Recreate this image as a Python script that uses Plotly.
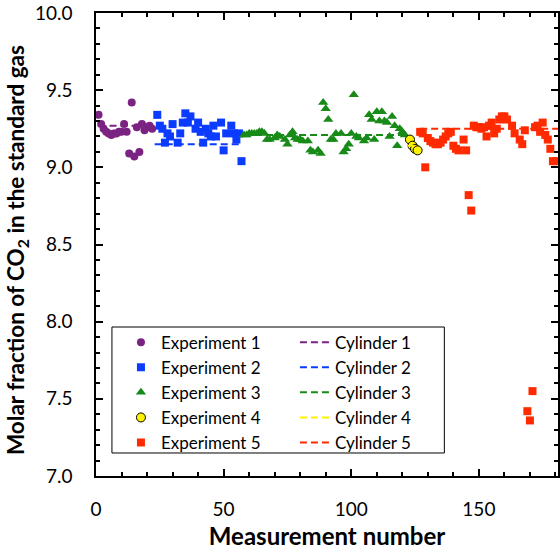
import plotly.graph_objects as go

# Measured CO2 molar fraction of the standard gas, per experiment
exp1_n = [1, 2, 3, 4, 5, 6, 7, 8, 9, 10, 11, 12, 13, 14, 15, 16, 17, 18, 19, 20, 21, 22]
exp1_v = [9.34, 9.28, 9.25, 9.23, 9.22, 9.21, 9.22, 9.22, 9.23, 9.23, 9.28, 9.23,
          9.09, 9.42, 9.07, 9.26, 9.10, 9.28, 9.24, 9.26, 9.27, 9.25]

exp2_n = [24, 25, 26, 27, 28, 29, 30, 32, 33, 34, 35, 36, 37, 39, 40, 41, 42, 43,
          44, 45, 46, 47, 49, 50, 51, 53, 54, 55, 56, 57]
exp2_v = [9.34, 9.27, 9.25, 9.16, 9.22, 9.20, 9.28, 9.16, 9.22, 9.29, 9.35, 9.29,
          9.33, 9.25, 9.29, 9.23, 9.16, 9.25, 9.22, 9.20, 9.27, 9.20, 9.29, 9.11,
          9.22, 9.27, 9.22, 9.18, 9.22, 9.04]

exp3_n = [58, 59, 60, 61, 62, 63, 64, 65, 66, 67, 68, 70, 71, 72, 74, 75, 76, 77,
          78, 79, 80, 81, 83, 84, 85, 87, 88, 89, 90, 91, 92, 93, 94, 96, 97, 98,
          99, 100, 101, 102, 103, 105, 106, 107, 108, 109, 110, 111, 112, 113, 114,
          115, 116, 117, 118, 119, 120, 121]
exp3_v = [9.21, 9.21, 9.22, 9.22, 9.22, 9.22, 9.23, 9.23, 9.22, 9.18, 9.18, 9.19,
          9.21, 9.20, 9.18, 9.15, 9.21, 9.23, 9.19, 9.18, 9.18, 9.17, 9.17, 9.11,
          9.10, 9.11, 9.09, 9.42, 9.38, 9.31, 9.18, 9.18, 9.22, 9.22, 9.10, 9.12,
          9.15, 9.22, 9.47, 9.20, 9.19, 9.17, 9.19, 9.34, 9.31, 9.18, 9.36, 9.30,
          9.36, 9.30, 9.29, 9.20, 9.33, 9.27, 9.14, 9.25, 9.23, 9.21]

exp4_n = [123, 124, 125, 126]
exp4_v = [9.18, 9.14, 9.12, 9.11]

exp5_n = [127, 128, 129, 130, 131, 132, 133, 134, 135, 136, 137, 138, 139, 140,
          141, 142, 144, 145, 146, 147, 148, 149, 150, 151, 152, 153, 154, 155,
          156, 157, 158, 159, 160, 161, 163, 164, 166, 167, 168, 169, 170, 171,
          172, 173, 174, 175, 176, 177, 178, 179, 180]
exp5_v = [9.23, 9.22, 9.00, 9.19, 9.17, 9.16, 9.15, 9.15, 9.16, 9.18, 9.20, 9.22,
          9.23, 9.14, 9.12, 9.11, 9.18, 9.11, 8.82, 8.72, 9.27, 9.26, 9.26, 9.25,
          9.26, 9.20, 9.27, 9.29, 9.22, 9.25, 9.31, 9.33, 9.33, 9.31, 9.27, 9.22,
          9.18, 9.15, 9.24, 7.42, 7.36, 7.55, 9.26, 9.27, 9.23, 9.29, 9.21, 9.18,
          9.12, 9.04, 9.04]

# Reference value of each cylinder and the measurement span it covers
cyl_names = ["Cylinder 1", "Cylinder 2", "Cylinder 3", "Cylinder 4", "Cylinder 5"]
cyl_start = [1, 23, 58, 122, 127]
cyl_end = [22, 57, 121, 126, 181]
cyl_value = [9.27, 9.15, 9.21, 9.14, 9.25]

x_ticks = [0, 50, 100, 150]
y_ticks = [7.0, 7.5, 8.0, 8.5, 9.0, 9.5, 10.0]

purple = "#7B2382"
blue = "#0B3BFF"
green = "#178A17"
yellow = "#FFF200"
red = "#FF2A00"
cyl_colors = [purple, blue, green, yellow, red]

FONT = "Lato, 'Open Sans', sans-serif"

fig = go.Figure()

experiments = [
    ("Experiment 1", exp1_n, exp1_v, dict(symbol="circle", size=8, color=purple)),
    ("Experiment 2", exp2_n, exp2_v, dict(symbol="square", size=8, color=blue)),
    ("Experiment 3", exp3_n, exp3_v, dict(symbol="triangle-up", size=9, color=green)),
    ("Experiment 4", exp4_n, exp4_v, dict(symbol="circle", size=9, color=yellow,
                                          line=dict(color="black", width=1))),
    ("Experiment 5", exp5_n, exp5_v, dict(symbol="square", size=8, color=red)),
]
for i, (name, xs, ys, mk) in enumerate(experiments):
    fig.add_trace(go.Scatter(x=xs, y=ys, mode="markers", name=name, marker=mk,
                             legendrank=2 * i + 1))

for i in range(5):
    fig.add_trace(go.Scatter(
        x=[cyl_start[i], cyl_end[i]], y=[cyl_value[i], cyl_value[i]],
        mode="lines", name=cyl_names[i], legendrank=2 * i + 2,
        line=dict(color=cyl_colors[i], width=2, dash="7px,4px")))

axis_common = dict(
    showgrid=False, zeroline=False, showline=True, linecolor="black", linewidth=1.5,
    mirror="ticks", ticks="inside", ticklen=7, tickwidth=1.5, tickcolor="black",
    tickfont=dict(family=FONT, size=19, color="black"),
)

# Frame behind the legend entries
fig.add_shape(type="rect", xref="x domain", yref="y domain",
              x0=0.0345, x1=0.754, y0=0.0497, y1=0.3218,
              line=dict(color="black", width=1), fillcolor="white", layer="above")

# Vertical axis title
fig.add_annotation(text="Molar fraction of CO<sub>2</sub> in the standard gas",
                   xref="paper", yref="paper", x=-0.171, y=0.488,
                   xanchor="center", yanchor="middle", textangle=-90, showarrow=False,
                   font=dict(family=FONT, size=22.5, color="black", weight="bold"))

fig.update_layout(
    width=560, height=551,
    margin=dict(l=96, r=0, t=13, b=75),
    plot_bgcolor="white", paper_bgcolor="white",
    xaxis=dict(range=[0, 181], tickvals=x_ticks, ticklabelstandoff=15,
               minor=dict(dtick=10, tick0=0, ticks="inside", ticklen=4, tickcolor="black"),
               title=dict(text="Measurement number", standoff=10,
                          font=dict(family=FONT, size=24, color="black", weight="bold")),
               **axis_common),
    yaxis=dict(range=[7, 10], tickvals=y_ticks, tickformat=".1f", ticklabelstandoff=18,
               minor=dict(dtick=0.1, tick0=7, ticks="inside", ticklen=4, tickcolor="black"),
               **axis_common),
    legend=dict(orientation="h", x=0.054, y=0.327, xanchor="left", yanchor="top",
                entrywidth=129, bgcolor="rgba(0,0,0,0)", borderwidth=0,
                font=dict(family=FONT, size=17, color="black"), traceorder="normal"),
    showlegend=True,
)

fig.write_html("out.html")
